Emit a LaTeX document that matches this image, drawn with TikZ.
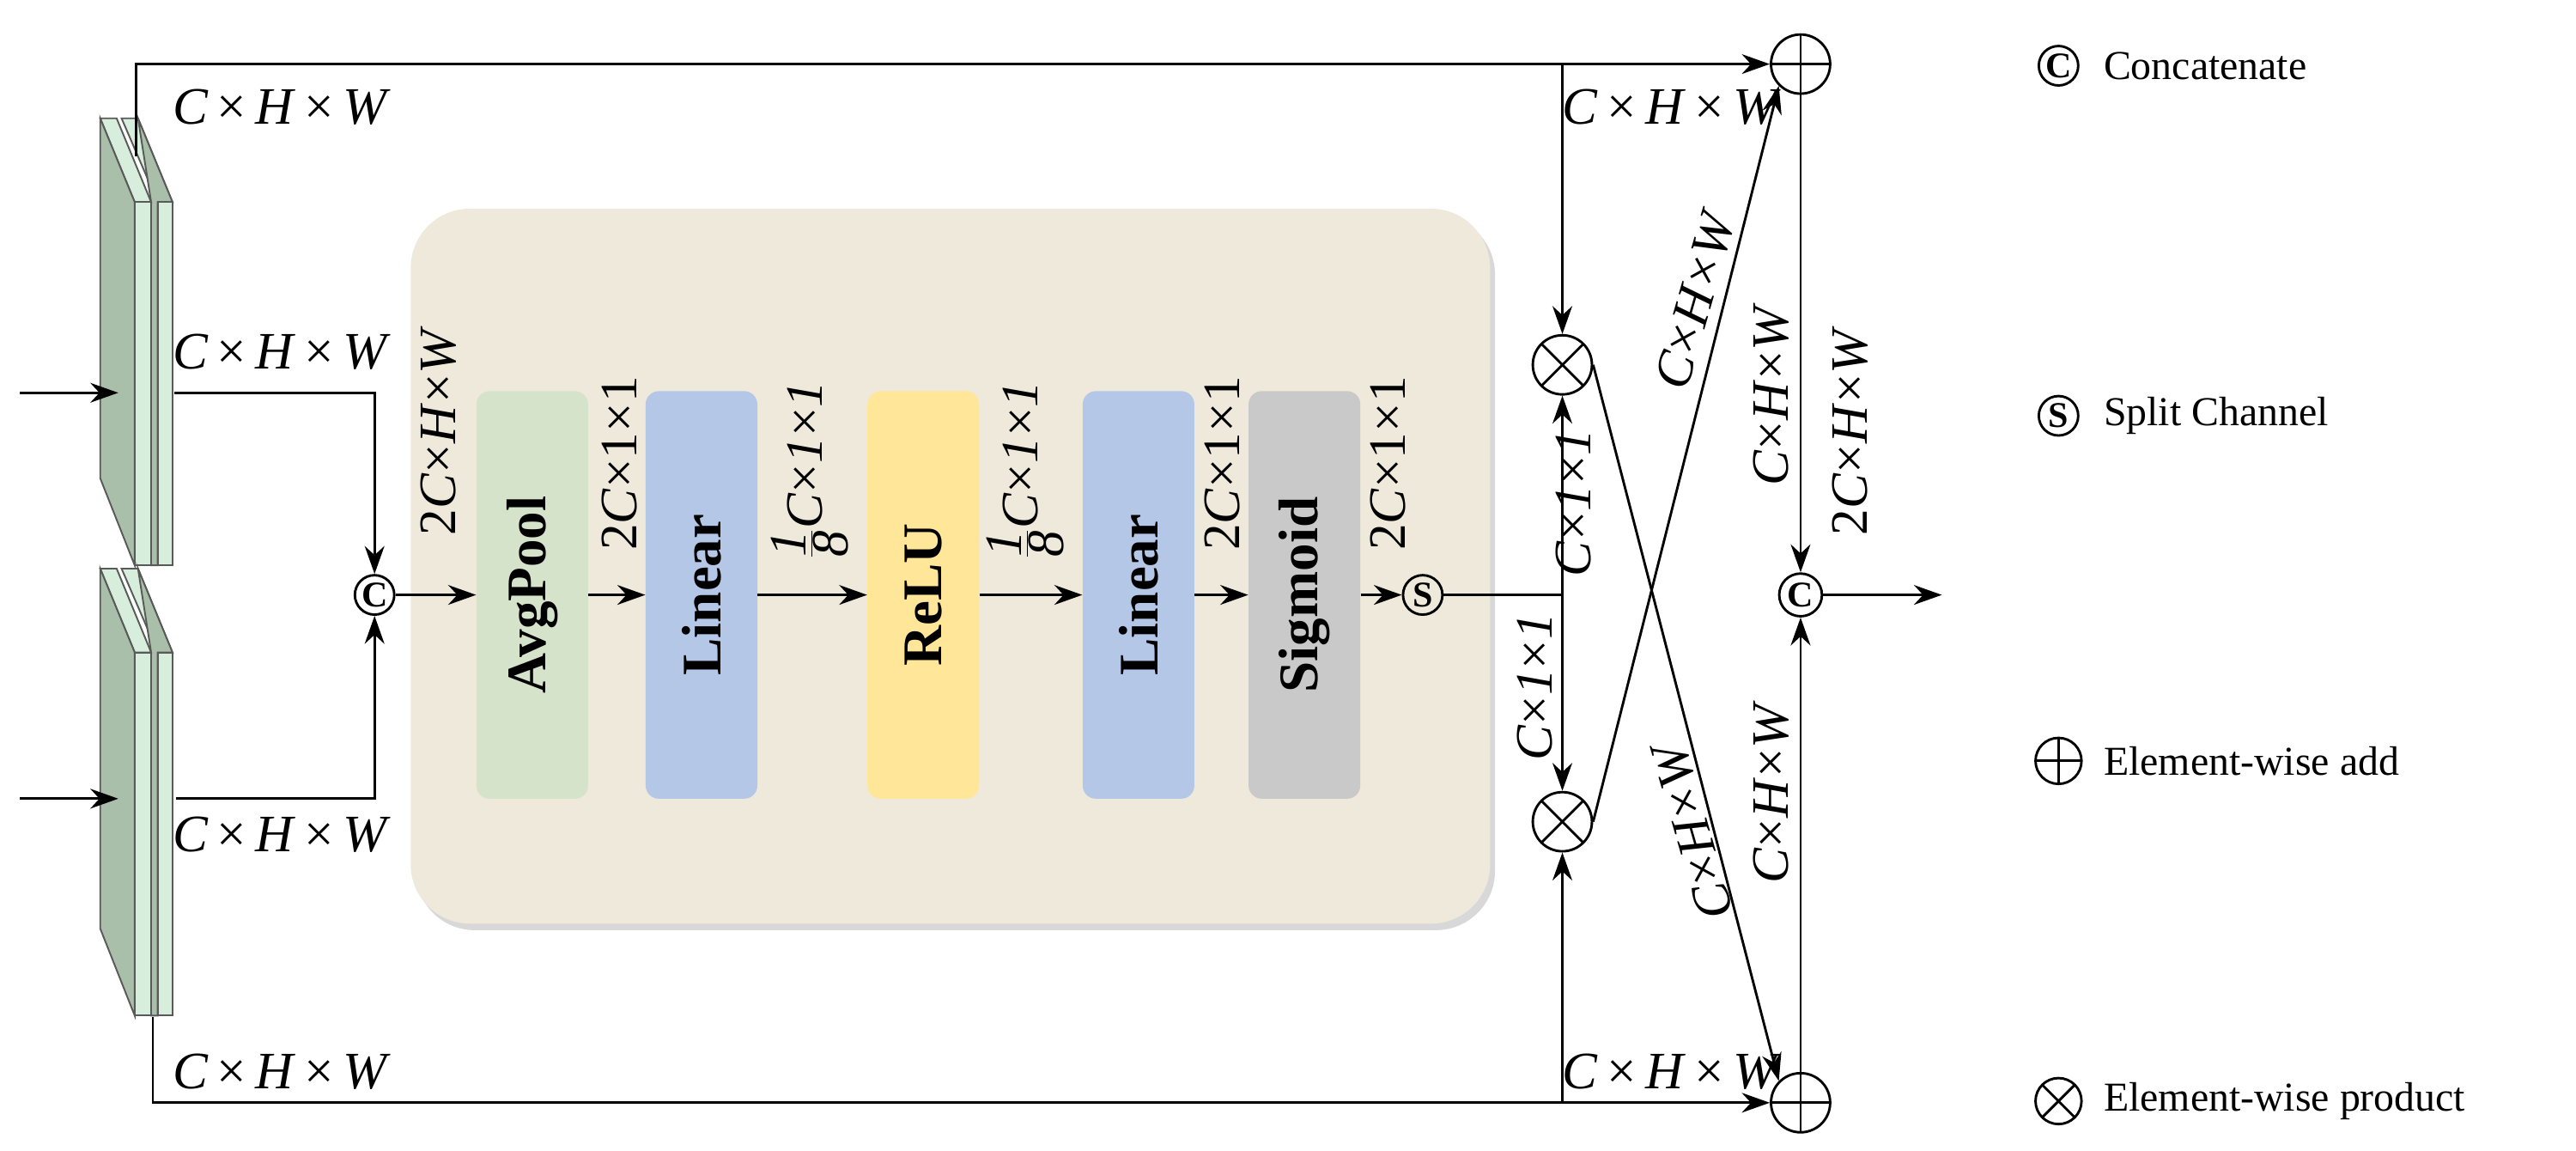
\documentclass[tikz,border=0pt]{standalone}
\usepackage{fontspec}
\setmainfont{Liberation Serif}
\usetikzlibrary{arrows.meta,shadows}
\newcommand\dd{\textit{C}\,×\,\textit{H}\,×\,\textit{W}}
\newcommand\ddn{\textit{C}×\textit{H}×\textit{W}}
\newcommand\eig{$\frac{\mbox{\itshape 1}}{\mbox{\itshape 8}}$\textit{C}×\textit{1}×\textit{1}}
\definecolor{boxbg}{HTML}{EFE9DB}
\definecolor{cgreen}{HTML}{D5E3CB}
\definecolor{cblue}{HTML}{B4C7E7}
\definecolor{cyel}{HTML}{FFE699}
\definecolor{cgray}{HTML}{C9C9C9}
\definecolor{slabd}{HTML}{A9BFA9}
\definecolor{slabl}{HTML}{D8EEDC}
\begin{document}
\begin{tikzpicture}[x=1pt,y=-1pt,
  ar/.style={line width=1.5pt,-{Stealth[length=17pt,width=12pt]}},
  ln/.style={line width=1.5pt},
  blk/.style={rounded corners=8pt,minimum width=68pt,minimum height=248pt,inner sep=0pt,font=\fontsize{34}{34}\selectfont\bfseries},
  lab/.style={font=\fontsize{32}{32}\selectfont,inner sep=1pt},
  op/.style={circle,draw,line width=1.5pt,minimum size=36pt,inner sep=0pt},
  sm/.style={circle,draw,line width=1.5pt,minimum size=24pt,inner sep=0pt,font=\fontsize{22}{22}\selectfont\bfseries},
  otimes/.style={op,path picture={\draw[line width=1.5pt] (path picture bounding box.north west)--(path picture bounding box.south east) (path picture bounding box.north east)--(path picture bounding box.south west);}},
  oplus/.style={op,path picture={\draw[line width=1.5pt] (path picture bounding box.north)--(path picture bounding box.south) (path picture bounding box.east)--(path picture bounding box.west);}},
  slab/.style={draw=gray!70!black,line width=1pt}
]
\useasboundingbox (0,0) rectangle (1568,700);
% feature stacks
\foreach \o in {0,274}{
  \begin{scope}[yshift=-\o pt]
  \filldraw[slab,fill=slabl] (74,72)--(84,72)--(105,123)--(96,123)--cycle;
  \filldraw[slab,fill=slabd] (84,72)--(105,123)--(96,123)--(96,344)--(92,344)--(92,123)--cycle;
  \filldraw[slab,fill=slabl] (96,123) rectangle (105,344);
  \filldraw[slab,fill=slabl] (61,72)--(71,72)--(92,123)--(82,123)--cycle;
  \filldraw[slab,fill=slabd] (61,72)--(82,123)--(82,344)--(61,291)--cycle;
  \filldraw[slab,fill=slabl] (82,123) rectangle (92,344);
  \end{scope}}
\coordinate (in1) at (12,239); \coordinate (f1) at (72,239);
\coordinate (in2) at (12,486); \coordinate (f2) at (72,486);
\draw[ar] (in1)--(f1); \draw[ar] (in2)--(f2);
% big box
\fill[boxbg,rounded corners=36pt,drop shadow={shadow xshift=3pt,shadow yshift=-4pt,fill=gray!60}] (250,127) rectangle (907,562);
\node[blk,fill=cgreen] (avg) at (324,362) {\rotatebox{90}{AvgPool}};
\node[blk,fill=cblue] (lin1) at (427,362) {\rotatebox{90}{Linear}};
\node[blk,fill=cyel] (relu) at (562,362) {\rotatebox{90}{ReLU}};
\node[blk,fill=cblue] (lin2) at (693,362) {\rotatebox{90}{Linear}};
\node[blk,fill=cgray] (sig) at (794,362) {\rotatebox{90}{Sigmoid}};
\node[sm] (cat) at (228,362) {C};
\node[sm] (spl) at (866,362) {S};
\draw[ar] (cat)--(avg.west); \draw[ar] (avg.east)--(lin1.west); \draw[ar] (lin1.east)--(relu.west);
\draw[ar] (relu.east)--(lin2.west); \draw[ar] (lin2.east)--(sig.west); \draw[ar] (sig.east)--(spl);
\node[lab,rotate=90] at (267,262) {2\textit{C}×\textit{H}×\textit{W}};
\node[lab,rotate=90] at (377,282) {2\textit{C}×1×1};
\node[lab,rotate=90] at (493,286) {\eig};
\node[lab,rotate=90] at (624,286) {\eig};
\node[lab,rotate=90] at (744,282) {2\textit{C}×1×1};
\node[lab,rotate=90] at (845,282) {2\textit{C}×1×1};
% left connectors
\coordinate (s1) at (106,239); \coordinate (s2) at (107,486);
\draw[ar] (s1)-|(cat);
\draw[ar] (s2)-|(cat);
\node[lab,anchor=west] at (104,214) {\dd};
\node[lab,anchor=west] at (104,508) {\dd};
% right part
\node[otimes] (m1) at (951,222) {};
\node[otimes] (m2) at (951,500) {};
\node[oplus] (a1) at (1096,39) {};
\node[oplus] (a2) at (1096,671) {};
\node[sm,minimum size=26pt] (cat2) at (1096,362) {C};
\coordinate (t0) at (83,95); \coordinate (b0) at (93,619);
\coordinate (tj) at (951,39); \coordinate (bj) at (951,671);
\draw[ln] (t0)|-(tj); \draw[ar] (tj)--(a1); \draw[ar] (tj)--(m1);
\draw[ln] (b0)|-(bj); \draw[ar] (bj)--(a2); \draw[ar] (bj)--(m2);
\coordinate (sj) at (951,362);
\draw[ln] (spl)--(sj); \draw[ar] (sj)--(m1); \draw[ar] (sj)--(m2);
\draw[ar] (m1.east)--(a2.north west);
\draw[ar] (m2.east)--(a1.south west);
\draw[ar] (a1)--(cat2); \draw[ar] (a2)--(cat2);
\coordinate (out) at (1182,362);
\draw[ar] (cat2)--(out);
\node[lab,anchor=west] at (104,65) {\dd};
\node[lab,anchor=west] at (104,652) {\dd};
\node[lab,anchor=west] at (950,65) {\dd};
\node[lab,anchor=west] at (950,652) {\dd};
\node[lab,rotate=90] at (934,418) {\textit{C}×\textit{1}×\textit{1}};
\node[lab,rotate=90] at (958,306) {\textit{C}×\textit{1}×\textit{1}};
\node[lab,rotate=74] at (1032,182) {\ddn};
\node[lab,rotate=106] at (1030,505) {\ddn};
\node[lab,rotate=90] at (1078,240) {\ddn};
\node[lab,rotate=90] at (1078,482) {\ddn};
\node[lab,rotate=90] at (1126,262) {2\ddn};
% legend
\node[sm] (l1) at (1253,40) {C};
\node[sm] (l2) at (1253,253) {S};
\node[oplus,minimum size=28pt] (l3) at (1253,463) {};
\node[otimes,minimum size=28pt] (l4) at (1253,670) {};
\node[font=\fontsize{25}{25}\selectfont,anchor=west] at (1277,40) {Concatenate};
\node[font=\fontsize{25}{25}\selectfont,anchor=west] at (1277,253) {Split Channel};
\node[font=\fontsize{25}{25}\selectfont,anchor=west] at (1277,463) {Element-wise add};
\node[font=\fontsize{25}{25}\selectfont,anchor=west] at (1277,670) {Element-wise product};
\end{tikzpicture}
\end{document}
